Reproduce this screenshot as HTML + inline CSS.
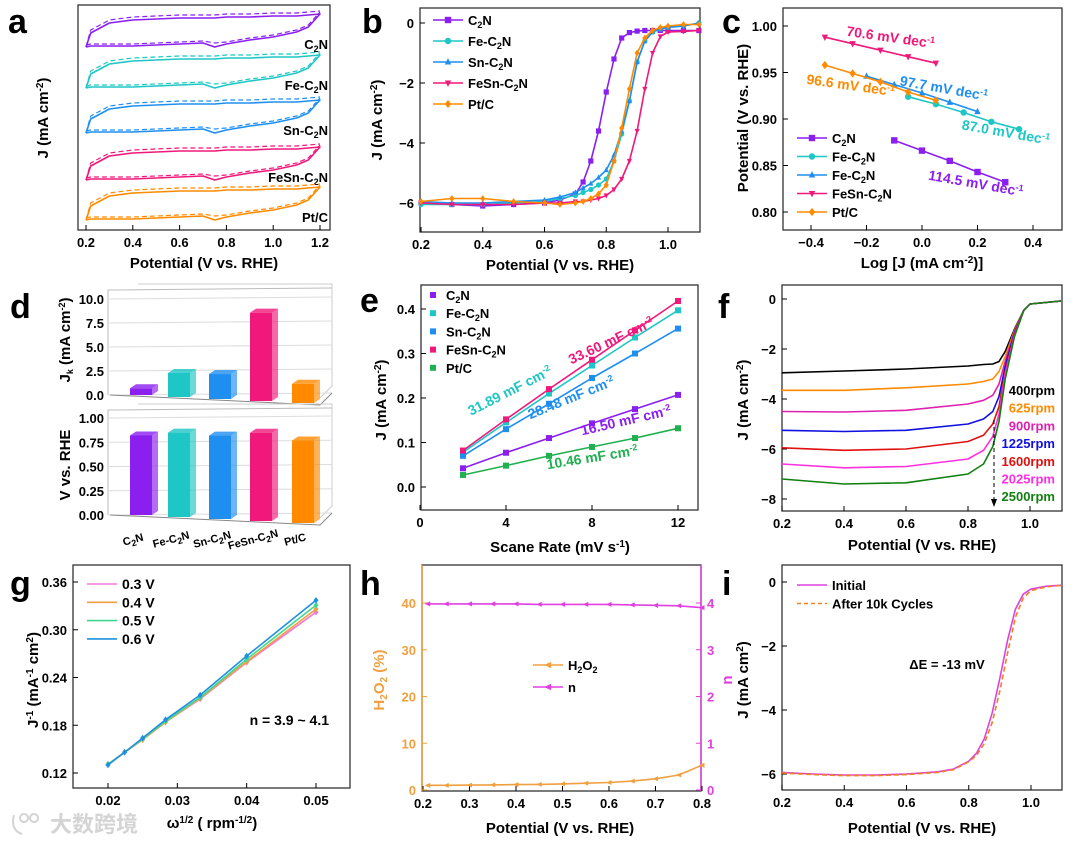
<!DOCTYPE html>
<html><head><meta charset="utf-8"><style>
html,body{margin:0;padding:0;background:#fff;}
svg{display:block;font-family:"Liberation Sans",Arial,sans-serif;}
</style></head><body>
<svg id="fig" width="1080" height="844" viewBox="0 0 1080 844" xmlns="http://www.w3.org/2000/svg"></svg>
<script>
// ---------- data ----------
const cvPot=[0.2,0.22,0.3,0.4,0.5,0.6,0.7,0.75,0.8,0.9,1.0,1.1,1.15,1.2];
const cvUpper=[0,-14,-24,-27,-28,-29,-29,-29,-30,-30,-31,-31,-32,-33];
const cvLower=[0,-1,-1,-1,-2,-3,-4,0,-3,-7,-10,-15,-20,-33];
const cvNames=['C\u2082N','Fe-C\u2082N','Sn-C\u2082N','FeSn-C\u2082N','Pt/C'];
const cvOffsets=[47,88,133,180,220];
const colors=['#8a1ff0','#1ec6c6','#1e8ff0','#f0187a','#ff8a00'];

const lsvPot=[0.2,0.3,0.4,0.5,0.6,0.65,0.7,0.725,0.75,0.775,0.8,0.825,0.85,0.875,0.9,0.925,0.95,0.975,1.0,1.05,1.1];
const lsvC2N=[-6.0,-6.05,-6.1,-6.05,-6.0,-5.9,-5.7,-5.3,-4.6,-3.6,-2.3,-1.2,-0.5,-0.32,-0.27,-0.25,-0.25,-0.25,-0.25,-0.25,-0.25];
const lsvFe=[-6.05,-6.05,-6.05,-6.0,-5.95,-5.85,-5.75,-5.65,-5.55,-5.4,-5.2,-4.6,-3.7,-2.6,-1.3,-0.6,-0.3,-0.2,-0.15,-0.1,0];
const lsvSn=[-5.95,-6.0,-6.0,-5.95,-5.9,-5.8,-5.65,-5.5,-5.35,-5.15,-4.9,-4.4,-3.6,-2.6,-1.3,-0.6,-0.3,-0.2,-0.15,-0.1,0];
const lsvFeSn=[-6.0,-6.05,-6.05,-6.05,-6.0,-6.0,-5.95,-5.95,-5.9,-5.85,-5.75,-5.55,-5.2,-4.6,-3.6,-2.2,-1.0,-0.45,-0.3,-0.28,-0.25];
const lsvPt=[-5.95,-5.85,-5.85,-5.95,-6.0,-6.05,-6.0,-5.95,-5.85,-5.7,-5.4,-4.6,-3.5,-2.2,-1.0,-0.5,-0.25,-0.15,-0.1,-0.05,-0.05];

const tafC2Nx=[-0.1,0,0.1,0.2,0.3];const tafC2Ny=[0.877,0.866,0.855,0.843,0.832];
const tafFex=[-0.05,0.05,0.15,0.25,0.35];const tafFey=[0.924,0.916,0.907,0.897,0.889];
const tafSnx=[-0.2,-0.1,0,0.1,0.2];const tafSny=[0.946,0.937,0.928,0.918,0.908];
const tafFeSnx=[-0.35,-0.25,-0.15,-0.05,0.05];const tafFeSny=[0.988,0.981,0.974,0.967,0.96];
const tafPtx=[-0.35,-0.25,-0.15,-0.05,0.05];const tafPty=[0.958,0.949,0.94,0.929,0.92];

const jkValues=[0.7,2.5,2.6,9.2,2.0];
const onsetValues=[0.82,0.87,0.86,0.91,0.85];

const scanRates=[2,4,6,8,10,12];
const dlC2N=[0.042,0.077,0.11,0.143,0.175,0.207];
const dlFe=[0.078,0.145,0.21,0.273,0.336,0.397];
const dlSn=[0.07,0.13,0.187,0.245,0.3,0.356];
const dlFeSn=[0.082,0.152,0.22,0.286,0.352,0.418];
const dlPt=[0.027,0.048,0.07,0.09,0.11,0.132];

const rpmPot=[0.2,0.4,0.6,0.8,0.85,0.88,0.9,0.92,0.95,0.98,1.0,1.1];
const rpm400=[-2.95,-2.88,-2.8,-2.68,-2.62,-2.6,-2.5,-2.1,-1.2,-0.45,-0.2,-0.08];
const rpm625=[-3.65,-3.65,-3.55,-3.4,-3.3,-3.2,-2.9,-2.3,-1.25,-0.45,-0.2,-0.08];
const rpm900=[-4.5,-4.52,-4.45,-4.2,-4.05,-3.85,-3.4,-2.5,-1.3,-0.45,-0.2,-0.08];
const rpm1225=[-5.25,-5.3,-5.25,-5.0,-4.8,-4.5,-3.9,-2.7,-1.35,-0.45,-0.2,-0.08];
const rpm1600=[-5.95,-6.05,-6.0,-5.7,-5.45,-5.0,-4.3,-2.9,-1.4,-0.45,-0.2,-0.08];
const rpm2025=[-6.6,-6.75,-6.7,-6.4,-6.05,-5.5,-4.6,-3.0,-1.45,-0.45,-0.2,-0.08];
const rpm2500=[-7.2,-7.4,-7.35,-7.0,-6.6,-5.9,-4.9,-3.2,-1.5,-0.45,-0.2,-0.08];
const rpmLabels=['400rpm','625rpm','900rpm','1225rpm','1600rpm','2025rpm','2500rpm'];
const rpmColors=['#000','#ff8a00','#e020b0','#1010e0','#e01010','#ff30e0','#108010'];

const klOmega=[0.02,0.0224,0.025,0.0283,0.0333,0.04,0.05];
const kl03=[0.131,0.146,0.162,0.184,0.213,0.259,0.322];
const kl04=[0.131,0.146,0.162,0.184,0.214,0.260,0.326];
const kl05=[0.131,0.146,0.163,0.185,0.215,0.263,0.331];
const kl06=[0.130,0.146,0.164,0.187,0.218,0.267,0.337];
const klLabels=['0.3 V','0.4 V','0.5 V','0.6 V'];
const klColors=['#f07ad8','#f0a040','#40d890','#2090e0'];

const rrdePot=[0.21,0.25,0.3,0.35,0.4,0.45,0.5,0.55,0.6,0.65,0.7,0.75,0.8];
const h2o2=[1.0,1.0,1.05,1.1,1.15,1.2,1.3,1.45,1.6,1.9,2.4,3.2,5.3];
const nVal=[3.98,3.98,3.98,3.98,3.98,3.97,3.97,3.97,3.97,3.96,3.95,3.94,3.9];

const stPot=[0.2,0.3,0.4,0.5,0.6,0.7,0.75,0.8,0.825,0.85,0.875,0.9,0.925,0.95,0.975,1.0,1.05,1.1];
const stInit=[-5.95,-6.0,-6.03,-6.03,-6.0,-5.93,-5.85,-5.6,-5.35,-4.9,-4.1,-3.0,-1.8,-0.85,-0.38,-0.22,-0.13,-0.1];
const stAfter=[-5.97,-6.02,-6.05,-6.05,-6.02,-5.95,-5.87,-5.62,-5.42,-5.05,-4.4,-3.4,-2.2,-1.1,-0.5,-0.27,-0.15,-0.1];

// ---------- helpers ----------
const S='http://www.w3.org/2000/svg';
const fig=document.getElementById('fig');
function mk(tag,at,parent){const e=document.createElementNS(S,tag);for(const k in at)e.setAttribute(k,at[k]);(parent||fig).appendChild(e);return e;}
function lin(d0,d1,r0,r1){return v=>r0+(v-d0)*(r1-r0)/(d1-d0);}
function txt(x,y,s,o){o=o||{};const t=mk('text',{x:x,y:y,'font-size':o.fs||13,'font-weight':o.fw||'bold','text-anchor':o.a||'middle',fill:o.c||'#000'});if(o.rot)t.setAttribute('transform','rotate('+(o.rot===1?-90:o.rot)+' '+x+' '+y+')');t.innerHTML=s;return t;}
function box(x0,y0,x1,y1,name){const r=mk('rect',{x:x0,y:y0,width:x1-x0,height:y1-y0,fill:'none',stroke:'#333','stroke-width':1.3});}
function xticks(sx,ticks,labels,y,name){const g=mk('g',{});
 ticks.forEach((v,i)=>{const x=sx(v);mk('line',{x1:x,x2:x,y1:y,y2:y-5,stroke:'#000'},g);const t=txt(x,y+17,labels[i],{fs:13});});}
function yticks(sy,ticks,labels,x,name,right,col){const g=mk('g',{});
 ticks.forEach((v,i)=>{const y=sy(v);mk('line',{x1:x,x2:right?x-5:x+5,y1:y,y2:y,stroke:col||'#000'},g);const t=txt(right?x+6:x-6,y+5,labels[i],{fs:13,a:right?'start':'end',c:col});});}
function series(xs,ys,sx,sy,col,name,opt){opt=opt||{};const d=xs.map((x,i)=>(i?'L':'M')+sx(x).toFixed(1)+' '+sy(ys[i]).toFixed(1)).join(' ');
 const p=mk('path',{d:d,fill:'none',stroke:col,'stroke-width':opt.w||1.6,'stroke-linejoin':'round'});if(opt.dash)p.setAttribute('stroke-dasharray',opt.dash);
 
 if(opt.m){xs.forEach((x,i)=>{const mm=marker(sx(x),sy(ys[i]),opt.m,col,opt.ms||3.2);});}return p;}
function marker(x,y,m,c,r){if(m==='s')return mk('rect',{x:x-r,y:y-r,width:2*r,height:2*r,fill:c});
 if(m==='c')return mk('circle',{cx:x,cy:y,r:r,fill:c});
 if(m==='t')return mk('path',{d:`M${x} ${y-r*1.2}L${x+r} ${y+r*0.8}L${x-r} ${y+r*0.8}Z`,fill:c});
 if(m==='v')return mk('path',{d:`M${x} ${y+r*1.2}L${x+r} ${y-r*0.8}L${x-r} ${y-r*0.8}Z`,fill:c});
 if(m==='d')return mk('path',{d:`M${x} ${y-r*1.3}L${x+r} ${y}L${x} ${y+r*1.3}L${x-r} ${y}Z`,fill:c});
 if(m==='l')return mk('path',{d:`M${x-r*1.2} ${y}L${x+r} ${y-r}L${x+r} ${y+r}Z`,fill:c});
 return mk('path',{d:`M${x+r*1.2} ${y}L${x-r} ${y-r}L${x-r} ${y+r}Z`,fill:c});}
function letter(x,y,s){const t=txt(x,y,s,{fs:34,a:'start'});}
function legend(x,y,dy,labels,cols,marks,name,fs,dash){labels.forEach((l,i)=>{const g=mk('g',{});
 const ln=mk('line',{x1:x,x2:x+30,y1:y+i*dy,y2:y+i*dy,stroke:cols[i],'stroke-width':1.6},g);if(dash&&dash[i])ln.setAttribute('stroke-dasharray',dash[i]);
 if(marks&&marks[i])g.appendChild(marker(x+15,y+i*dy,marks[i],cols[i],3.2));
 const t=txt(x+35,y+i*dy+5,l,{fs:fs||13,a:'start'});g.appendChild(t);});}
const sub=s=>s.includes('\u2082')?s.replace('\u2082','<tspan font-size="9" dy="3">2</tspan><tspan dy="-3">')+'</tspan>':s;
const ylab='J (mA cm<tspan dy="-5" font-size="10">-2</tspan><tspan dy="5">)</tspan>';

// ---------- panel a ----------
letter(8,33,'a');
box(78,5,330,230,'panel-a-frame');
const ax=lin(0.2,1.2,86,320);
xticks(ax,[0.2,0.4,0.6,0.8,1.0,1.2],['0.2','0.4','0.6','0.8','1.0','1.2'],230,'panel-a-x-ticks');
txt(204,268,'Potential (V vs. RHE)',{fs:15});
txt(48,118,ylab,{fs:15,rot:1});
cvNames.forEach((nm,k)=>{const off=cvOffsets[k];const sy=v=>off+v;
 series(cvPot.concat(cvPot.slice().reverse()),cvUpper.concat(cvLower.slice().reverse()),ax,sy,colors[k],'cv-'+k);
 series(cvPot,cvUpper.map(v=>v===0?0:v-3),ax,sy,colors[k],'cv-dashed-'+k,{dash:'5,3',w:1.2});
 series(cvPot,cvLower.map((v,i)=>i==7?v-4:v-2),ax,sy,colors[k],'cv-dashed-low-'+k,{dash:'5,3',w:1.2});
 const t=txt(328,off+2,sub(nm),{fs:13,a:'end'});});

// ---------- panel b ----------
letter(362,33,'b');
box(420,8,700,232,'panel-b-frame');
const bx=lin(0.2,1.0,421,668),by=lin(0,-6,23,203);
xticks(bx,[0.2,0.4,0.6,0.8,1.0],['0.2','0.4','0.6','0.8','1.0'],232,'panel-b-x-ticks');
yticks(by,[0,-2,-4,-6],['0','\u22122','\u22124','\u22126'],420,'panel-b-y-ticks');
txt(560,270,'Potential (V vs. RHE)',{fs:15});
txt(382,120,ylab,{fs:15,rot:1});
const lsv=[lsvC2N,lsvFe,lsvSn,lsvFeSn,lsvPt],lsvM=['s','c','t','v','d'];
lsv.forEach((ys,i)=>series(lsvPot,ys,bx,by,colors[i],'lsv-'+i,{m:lsvM[i],ms:2.6}));
legend(433,20,21,['C\u2082N','Fe-C\u2082N','Sn-C\u2082N','FeSn-C\u2082N','Pt/C'].map(sub),colors,lsvM,'lsv-legend');

// ---------- panel c ----------
letter(722,33,'c');
box(783,8,1062,230,'panel-c-frame');
const cx=lin(-0.4,0.4,811,1033),cy=lin(1.0,0.8,26,212);
xticks(cx,[-0.4,-0.2,0,0.2,0.4],['\u22120.4','\u22120.2','0.0','0.2','0.4'],230,'panel-c-x-ticks');
yticks(cy,[0.8,0.85,0.9,0.95,1.0],['0.80','0.85','0.90','0.95','1.00'],783,'panel-c-y-ticks');
txt(922,268,'Log [J (mA cm<tspan dy="-5" font-size="10">-2</tspan><tspan dy="5">)]</tspan>',{fs:15});
txt(748,118,'Potential (V vs. RHE)',{fs:15,rot:1});
series(tafC2Nx,tafC2Ny,cx,cy,colors[0],'tafel-c2n',{m:'s'});
series(tafFex,tafFey,cx,cy,colors[1],'tafel-fe',{m:'c'});
series(tafSnx,tafSny,cx,cy,colors[2],'tafel-sn',{m:'t'});
series(tafFeSnx,tafFeSny,cx,cy,colors[3],'tafel-fesn',{m:'v'});
series(tafPtx,tafPty,cx,cy,colors[4],'tafel-pt',{m:'d'});
legend(797,138,18.5,['C\u2082N','Fe-C\u2082N','Fe-C\u2082N','FeSn-C\u2082N','Pt/C'].map(sub),colors,lsvM,'tafel-legend');
const sup='<tspan dy="-5" font-size="9">-1</tspan>';
[[890,42,8,'70.6',3],[850,90,8,'96.6',4],[943,93,10,'97.7',2],[1005,137,10,'87.0',1],[975,188,10,'114.5',0]].forEach(a=>{const t=txt(a[0],a[1],a[3]+' mV dec'+sup,{fs:14,c:colors[a[4]],rot:a[2]});});

// ---------- panel d ----------
letter(10,318,'d');
const dg=mk('g',{});
const dTop=lin(0,10,395,299),dBot=lin(0,1,515,418);
[[dTop,[0,2.5,5,7.5,10],['0.0','2.5','5.0','7.5','10.0'],290,398],[dBot,[0,0.25,0.5,0.75,1.0],['0.00','0.25','0.50','0.75','1.00'],410,518]].forEach(([sc,tk,lb,yt,yb])=>{
 mk('path',{d:`M108 ${yb-3}L108 ${yt}L330 ${yt-2}L332 ${yt-2}`,fill:'none',stroke:'#bbb'},dg);
 mk('path',{d:`M138 ${yt-6}L332 ${yt-6}L332 ${yb-12}L320 ${yb}`,fill:'none',stroke:'#ccc'},dg);
 tk.forEach((v,i)=>{const y=sc(v);mk('line',{x1:108,x2:332,y1:y,y2:y-2,stroke:'#ddd'},dg);const t=txt(104,y+5,lb[i],{fs:13,a:'end'});});
 mk('path',{d:`M110 ${sc(0)}L320 ${sc(0)+10}L332 ${sc(0)-2}`,fill:'none',stroke:'#888'},dg);});
txt(70,340,'J<tspan font-size="9" dy="3">k</tspan><tspan dy="-3"> (mA cm</tspan><tspan dy="-5" font-size="9">-2</tspan><tspan dy="5">)</tspan>',{fs:15,rot:1});
txt(70,465,'V vs. RHE',{fs:15,rot:1});
const barX=[130,168,209,250,292];
function bar3(x,y0,y1,c,nm){const w=22,dx=6,dy=4;
 const f=mk('rect',{x:x,y:y1,width:w,height:y0-y1,fill:c});
 mk('path',{d:`M${x+w} ${y1}L${x+w+dx} ${y1-dy}L${x+w+dx} ${y0-dy}L${x+w} ${y0}Z`,fill:c,opacity:0.65});
 mk('path',{d:`M${x} ${y1}L${x+dx} ${y1-dy}L${x+w+dx} ${y1-dy}L${x+w} ${y1}Z`,fill:c,opacity:0.8});}
jkValues.forEach((v,i)=>bar3(barX[i],dTop(0)+i*2,dTop(v)+i*2,colors[i],'jk-bar-'+i));
onsetValues.forEach((v,i)=>bar3(barX[i],dBot(0)+i*2,dBot(v)+i*2,colors[i],'onset-bar-'+i));
['C\u2082N','Fe-C\u2082N','Sn-C\u2082N','FeSn-C\u2082N','Pt/C'].forEach((s,i)=>{const x=barX[i]+4,y=543;const t=mk('text',{x:x,y:y,'font-size':11,'font-weight':'bold','text-anchor':'middle',transform:`rotate(-15 ${x} ${y})`});t.innerHTML=sub(s);});

// ---------- panel e ----------
letter(360,312,'e');
box(421,285,698,510,'panel-e-frame');
const ex=lin(0,12,420,678),ey=lin(0,0.4,487,309);
xticks(ex,[0,4,8,12],['0','4','8','12'],510,'panel-e-x-ticks');
yticks(ey,[0,0.1,0.2,0.3,0.4],['0.0','0.1','0.2','0.3','0.4'],421,'panel-e-y-ticks');
txt(560,552,'Scane Rate (mV s<tspan dy="-5" font-size="10">-1</tspan><tspan dy="5">)</tspan>',{fs:15});
txt(386,400,ylab,{fs:15,rot:1});
const eCols=['#8a1ff0','#1ec6c6','#1e8ff0','#f0187a','#20b050'];
[dlC2N,dlFe,dlSn,dlFeSn,dlPt].forEach((ys,i)=>series(scanRates,ys,ex,ey,eCols[i],'dl-line-'+i,{m:'s',ms:3}));
['C\u2082N','Fe-C\u2082N','Sn-C\u2082N','FeSn-C\u2082N','Pt/C'].forEach((l,i)=>{const g=mk('g',{});
 g.appendChild(marker(433,295+i*18.2,'s',eCols[i],3));const t=txt(446,300+i*18.2,sub(l),{fs:13,a:'start'});g.appendChild(t);});
const fsup='<tspan dy="-5" font-size="9">-2</tspan>';
[[613,345,-25,'33.60 mF cm',3],[512,395,-27,'31.89 mF cm',1],[573,402,-22,'28.48 mF cm',2],[627,425,-13,'16.50 mF cm',0],[593,462,-9,'10.46 mF cm',4]].forEach(a=>{const t=txt(a[0],a[1],a[3]+fsup,{fs:14,c:eCols[a[4]],rot:a[2]});});

// ---------- panel f ----------
letter(718,318,'f');
box(782,285,1062,511,'panel-f-frame');
const fx=lin(0.2,1.0,782,1030),fy=lin(0,-8,299,499);
xticks(fx,[0.2,0.4,0.6,0.8,1.0],['0.2','0.4','0.6','0.8','1.0'],511,'panel-f-x-ticks');
yticks(fy,[0,-2,-4,-6,-8],['0','\u22122','\u22124','\u22126','\u22128'],782,'panel-f-y-ticks');
txt(922,550,'Potential (V vs. RHE)',{fs:15});
txt(748,400,ylab,{fs:15,rot:1});
[rpm400,rpm625,rpm900,rpm1225,rpm1600,rpm2025,rpm2500].forEach((ys,i)=>series(rpmPot,ys,fx,fy,rpmColors[i],'rpm-curve-'+i));
rpmLabels.forEach((l,i)=>{const t=txt(1055,395+i*17.7,l,{fs:13,a:'end',c:rpmColors[i]});});
const arr=mk('line',{x1:994,x2:994,y1:420,y2:500,stroke:'#000','stroke-dasharray':'4,3'});
mk('path',{d:'M991 499L997 499L994 507Z',fill:'#000'});

// ---------- panel g ----------
letter(10,595,'g');
box(73,565,350,788,'panel-g-frame');
const gx=lin(0.02,0.05,108,316),gy=lin(0.12,0.36,773,582);
xticks(gx,[0.02,0.03,0.04,0.05],['0.02','0.03','0.04','0.05'],788,'panel-g-x-ticks');
yticks(gy,[0.12,0.18,0.24,0.30,0.36],['0.12','0.18','0.24','0.30','0.36'],73,'panel-g-y-ticks');
txt(212,828,'\u03c9<tspan dy="-5" font-size="10">1/2</tspan><tspan dy="5"> ( rpm</tspan><tspan dy="-5" font-size="10">-1/2</tspan><tspan dy="5">)</tspan>',{fs:15});
txt(38,680,'J<tspan dy="-5" font-size="10">-1</tspan><tspan dy="5"> (mA</tspan><tspan dy="-5" font-size="10">-1</tspan><tspan dy="5"> cm</tspan><tspan dy="-5" font-size="10">2</tspan><tspan dy="5">)</tspan>',{fs:15,rot:1});
[kl03,kl04,kl05,kl06].forEach((ys,i)=>series(klOmega,ys,gx,gy,klColors[i],'kl-line-'+i,{m:'d',ms:2.5}));
legend(87,584,18.3,klLabels,klColors,null,'kl-legend',14);
txt(329,725,'n = 3.9 ~ 4.1',{fs:14,a:'end'});
const wm=txt(50,832,'大数跨境',{fs:22,a:'start',c:'#d4d4d4'});wm.setAttribute('font-family','"Liberation Sans","Noto Sans CJK SC",sans-serif');
mk('path',{d:'M14 815 Q10 830 22 834 M24 814 a4 4 0 1 0 0.1 0 M34 814 a4 4 0 1 0 0.1 0',fill:'none',stroke:'#d4d4d4','stroke-width':2});

// ---------- panel h ----------
letter(360,595,'h');
box(422,565,701,791,'panel-h-frame');
mk('line',{x1:422,x2:422,y1:565,y2:791,stroke:'#f0a040','stroke-width':1.5});
mk('line',{x1:701,x2:701,y1:565,y2:791,stroke:'#e040e0','stroke-width':1.5});
const hx=lin(0.2,0.8,423,702),hy=lin(0,40,790,603),hn=lin(0,4,790,603);
xticks(hx,[0.2,0.3,0.4,0.5,0.6,0.7,0.8],['0.2','0.3','0.4','0.5','0.6','0.7','0.8'],791,'panel-h-x-ticks');
yticks(hy,[0,10,20,30,40],['0','10','20','30','40'],422,'panel-h-y-ticks-left',false,'#f0a040');
yticks(hn,[0,1,2,3,4],['0','1','2','3','4'],701,'panel-h-y-ticks-right',true,'#e040e0');
txt(560,833,'Potential (V vs. RHE)',{fs:15});
txt(384,680,'H<tspan font-size="10" dy="3">2</tspan><tspan dy="-3">O</tspan><tspan font-size="10" dy="3">2</tspan><tspan dy="-3"> (%)</tspan>',{fs:15,rot:1,c:'#f0a040'});
txt(732,680,'n',{fs:15,rot:1,c:'#e040e0'});
series(rrdePot,h2o2,hx,hy,'#f0a040','h2o2-curve',{m:'l',ms:2.5});
series(rrdePot,nVal,hx,hn,'#e040e0','n-curve',{m:'l',ms:2.5});
legend(533,665,22,['H<tspan font-size="9" dy="3">2</tspan><tspan dy="-3">O</tspan><tspan font-size="9" dy="3">2</tspan><tspan dy="-3"></tspan>','n'],['#f0a040','#e040e0'],['l','l'],'rrde-legend');

// ---------- panel i ----------
letter(722,595,'i');
box(782,565,1062,790,'panel-i-frame');
const ix=lin(0.2,1.0,782,1031),iy=lin(0,-6,582,774);
xticks(ix,[0.2,0.4,0.6,0.8,1.0],['0.2','0.4','0.6','0.8','1.0'],790,'panel-i-x-ticks');
yticks(iy,[0,-2,-4,-6],['0','\u22122','\u22124','\u22126'],782,'panel-i-y-ticks');
txt(922,833,'Potential (V vs. RHE)',{fs:15});
txt(748,680,'J (mA cm<tspan dy="-5" font-size="10">2</tspan><tspan dy="5">)</tspan>',{fs:15,rot:1});
series(stPot,stInit,ix,iy,'#e040e0','initial-curve');
series(stPot,stAfter,ix,iy,'#f08020','after-10k-curve',{dash:'5,3'});
legend(797,585,18.5,['Initial','After 10k Cycles'],['#e040e0','#f08020'],null,'stability-legend',13,[null,'4,3']);
txt(947,669,'\u0394E = -13 mV',{fs:13});
</script>
</body></html>
